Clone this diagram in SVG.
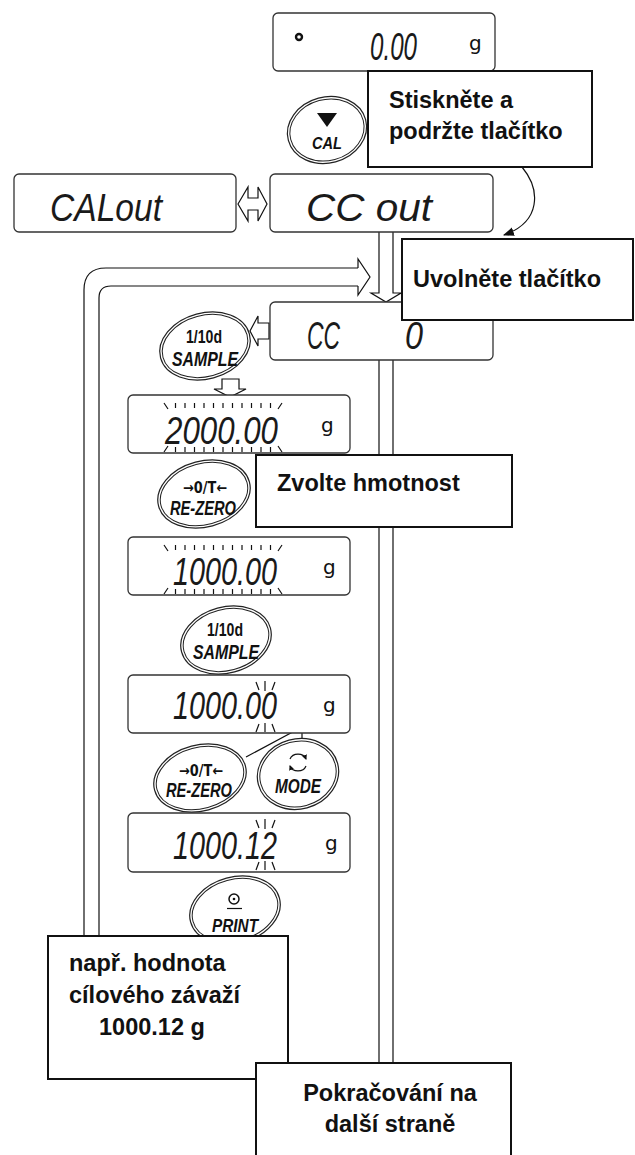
<svg xmlns="http://www.w3.org/2000/svg" width="635" height="1155" viewBox="0 0 635 1155">
<style>
.disp{fill:#fff;stroke:#333;stroke-width:1.3}
.seg{font-family:"Liberation Sans","DejaVu Sans",sans-serif;font-style:italic;font-size:38px;fill:#1a1a1a}
.unit{font-family:"DejaVu Sans","Liberation Sans",sans-serif;font-size:20px;fill:#111}
.btn{fill:#fff;stroke:#222;stroke-width:1.2}
.btn2{fill:none;stroke:#222;stroke-width:1}
.bt{font-family:"Liberation Sans","DejaVu Sans",sans-serif;font-weight:bold;fill:#111;text-anchor:middle}
.ar{font-family:"DejaVu Sans","Liberation Sans",sans-serif;font-weight:bold;fill:#111;text-anchor:middle}
.bi{font-style:italic}
.call{fill:#fff;stroke:#111;stroke-width:2}
.ct{font-family:"Liberation Sans",Arial,sans-serif;font-weight:bold;font-size:23.5px;fill:#111}
.ln{fill:none;stroke:#111;stroke-width:1.2}
.hol{fill:#fff;stroke:#111;stroke-width:1.2}
.tk{fill:none;stroke:#111;stroke-width:1.2}
</style>
<defs>
<marker id="ah" viewBox="0 0 10 10" refX="9" refY="5" markerWidth="11" markerHeight="11" orient="auto" markerUnits="userSpaceOnUse"><path d="M0,1 L10,5 L0,9 z" fill="#111"/></marker>
<marker id="ahs" viewBox="0 0 10 10" refX="8" refY="5" markerWidth="5" markerHeight="5" orient="auto" markerUnits="userSpaceOnUse"><path d="M0,0 L10,5 L0,10 z" fill="#111"/></marker>
<path id="tkAll" class="tk" d="M164,403 L168,409 M175.5,403 V408 M185,403 V408 M194.5,403 V408 M204,403 V408 M213.5,403 V408 M223,403 V408 M232.5,403 V408 M242,403 V408 M251.5,403 V408 M261,403 V408 M270.5,403 V408 M282,403 L278,409 M164,452 L168,446 M175.5,447 V452 M185,447 V452 M194.5,447 V452 M204,447 V452 M213.5,447 V452 M223,447 V452 M232.5,447 V452 M242,447 V452 M251.5,447 V452 M261,447 V452 M270.5,447 V452 M282,452 L278,446"/>
<path id="tkLast" class="tk" d="M256,682 L259,690 M265,681 V691 M275,682 L272,690 M256,732 L259,724 M265,723 V732 M275,732 L272,724"/>
</defs>

<g id="connectors">
<path class="ln" d="M84,936 V290 Q84,268 106,268 H358 M99,936 V298 Q99,286 111,286 H358"/>
<path class="ln" d="M358,268 V259 L370,277 L358,295 V286"/>
<path class="hol" d="M379,232 V293 H371 L386,302 L401,293 H393 V232"/>
<path class="ln" d="M379,360 V1063 M393,360 V1063"/>
<path class="ln" d="M522,167 C541,190 541,222 504,235" marker-end="url(#ah)"/>
<polygon class="hol" points="238,204 248,187 248,198 258,198 258,187 267,204 258,221 258,210 248,210 248,221"/>
<polygon class="hol" points="269,323 258,323 258,316 250,331 258,346 258,339 269,339"/>
<polygon class="hol" points="222,379 239,379 239,389 246,389 230,397 214,389 222,389"/>
<path class="ln" d="M290,690 V723 M290,708 H302 V740 M302,727 L246,757"/>
<path d="M290,683 L285,693 L295,693 Z M290,730 L285,720 L295,720 Z" fill="#111"/>
</g>

<g id="disp-top">
<rect class="disp" x="273" y="13" width="222" height="58" rx="5"/>
<circle cx="299" cy="37" r="3" fill="none" stroke="#111" stroke-width="2.4"/>
<text class="seg" x="370" y="60" textLength="47" lengthAdjust="spacingAndGlyphs">0.00</text>
<text class="unit" x="469" y="50">g</text>
</g>

<g id="btn-cal">
<ellipse class="btn" cx="327" cy="130" rx="40" ry="33" transform="rotate(-15 327 130)"/>
<ellipse class="btn2" cx="327" cy="130" rx="37.5" ry="30.5" transform="rotate(-15 327 130)"/>
<path d="M317,113 L337,113 L327,127 Z" fill="#111"/>
<text class="bt bi" x="327" y="149" font-size="17" textLength="30" lengthAdjust="spacingAndGlyphs">CAL</text>
</g>

<g id="disp-calout">
<rect class="disp" x="14" y="174" width="222" height="58" rx="5"/>
<text class="seg" x="50" y="221" textLength="112" lengthAdjust="spacingAndGlyphs">CALout</text>
</g>

<g id="disp-ccout">
<rect class="disp" x="270" y="174" width="223" height="58" rx="5"/>
<text class="seg" x="306" y="221" textLength="126" lengthAdjust="spacingAndGlyphs">CC out</text>
</g>

<g id="disp-cc0">
<rect class="disp" x="270" y="302" width="223" height="58" rx="5"/>
<text class="seg" x="307" y="349" textLength="33" lengthAdjust="spacingAndGlyphs">CC</text>
<text class="seg" x="405" y="349" textLength="18" lengthAdjust="spacingAndGlyphs">0</text>
</g>

<g id="btn-sample1">
<ellipse class="btn" cx="205" cy="346" rx="46" ry="33" transform="rotate(-15 205 346)"/>
<ellipse class="btn2" cx="205" cy="346" rx="43.5" ry="30.5" transform="rotate(-15 205 346)"/>
<text class="bt" x="204" y="343" font-size="19" textLength="36" lengthAdjust="spacingAndGlyphs">1/10d</text>
<text class="bt bi" x="205" y="366" font-size="20" textLength="66" lengthAdjust="spacingAndGlyphs">SAMPLE</text>
</g>

<g id="disp-2000">
<rect class="disp" x="128" y="395" width="222" height="58" rx="5"/>
<use href="#tkAll"/>
<text class="seg" x="165" y="444" textLength="113" lengthAdjust="spacingAndGlyphs">2000.00</text>
<text class="unit" x="321" y="432">g</text>
</g>

<g id="btn-rezero1">
<ellipse class="btn" cx="204" cy="494" rx="47" ry="33" transform="rotate(-15 204 494)"/>
<ellipse class="btn2" cx="204" cy="494" rx="44.5" ry="30.5" transform="rotate(-15 204 494)"/>
<text class="ar" x="205" y="493" font-size="15" textLength="44" lengthAdjust="spacingAndGlyphs">→0/T←</text>
<text class="bt bi" x="203" y="515" font-size="20" textLength="66" lengthAdjust="spacingAndGlyphs">RE-ZERO</text>
</g>

<g id="disp-1000a">
<rect class="disp" x="128" y="537" width="222" height="58" rx="5"/>
<use href="#tkAll" transform="translate(0,142)"/>
<text class="seg" x="173" y="585" textLength="104" lengthAdjust="spacingAndGlyphs">1000.00</text>
<text class="unit" x="323" y="574">g</text>
</g>

<g id="btn-sample2">
<ellipse class="btn" cx="226" cy="640" rx="46" ry="33" transform="rotate(-15 226 640)"/>
<ellipse class="btn2" cx="226" cy="640" rx="43.5" ry="30.5" transform="rotate(-15 226 640)"/>
<text class="bt" x="225" y="636" font-size="19" textLength="36" lengthAdjust="spacingAndGlyphs">1/10d</text>
<text class="bt bi" x="226" y="659" font-size="20" textLength="66" lengthAdjust="spacingAndGlyphs">SAMPLE</text>
</g>

<g id="disp-1000b">
<rect class="disp" x="128" y="675" width="222" height="58" rx="5"/>
<use href="#tkLast"/>
<text class="seg" x="173" y="719" textLength="104" lengthAdjust="spacingAndGlyphs">1000.00</text>
<text class="unit" x="323" y="712">g</text>
</g>

<g id="btn-rezero2">
<ellipse class="btn" cx="200" cy="778" rx="47" ry="33" transform="rotate(-15 200 778)"/>
<ellipse class="btn2" cx="200" cy="778" rx="44.5" ry="30.5" transform="rotate(-15 200 778)"/>
<text class="ar" x="201" y="776" font-size="15" textLength="44" lengthAdjust="spacingAndGlyphs">→0/T←</text>
<text class="bt bi" x="199" y="797" font-size="20" textLength="66" lengthAdjust="spacingAndGlyphs">RE-ZERO</text>
</g>

<g id="btn-mode">
<ellipse class="btn" cx="298" cy="774" rx="41" ry="35" transform="rotate(-15 298 774)"/>
<ellipse class="btn2" cx="298" cy="774" rx="38.5" ry="32.5" transform="rotate(-15 298 774)"/>
<path class="ln" d="M290,759 A8.5,7.5 0 0 1 306,759" marker-end="url(#ahs)"/>
<path class="ln" d="M306,766 A8.5,7.5 0 0 1 290,766" marker-end="url(#ahs)"/>
<text class="bt bi" x="298" y="793" font-size="20" textLength="46" lengthAdjust="spacingAndGlyphs">MODE</text>
</g>

<g id="disp-100012">
<rect class="disp" x="128" y="813" width="222" height="59" rx="5"/>
<use href="#tkLast" transform="translate(0,138)"/>
<text class="seg" x="173" y="859" textLength="104" lengthAdjust="spacingAndGlyphs">1000.12</text>
<text class="unit" x="325" y="850">g</text>
</g>

<g id="btn-print">
<ellipse class="btn" cx="235" cy="910" rx="46" ry="33" transform="rotate(-15 235 910)"/>
<ellipse class="btn2" cx="235" cy="910" rx="43.5" ry="30.5" transform="rotate(-15 235 910)"/>
<circle cx="234" cy="899" r="5" fill="none" stroke="#111" stroke-width="1.5"/>
<circle cx="234" cy="899" r="1.3" fill="#111"/>
<path class="ln" d="M227,908.5 H242" stroke-width="1.6"/>
<text class="bt bi" x="235" y="932" font-size="19" textLength="46" lengthAdjust="spacingAndGlyphs">PRINT</text>
</g>

<g id="note-press">
<rect class="call" x="368" y="71" width="224" height="96"/>
<text class="ct" x="389" y="108">Stiskněte a</text>
<text class="ct" x="389" y="139">podržte tlačítko</text>
</g>

<g id="note-release">
<rect class="call" x="402" y="239" width="231" height="81"/>
<text class="ct" x="413" y="287">Uvolněte tlačítko</text>
</g>

<g id="note-select">
<rect class="call" x="256" y="455" width="256" height="72"/>
<text class="ct" x="277" y="491">Zvolte hmotnost</text>
</g>

<g id="note-example">
<rect class="call" x="48" y="936" width="240" height="143"/>
<text class="ct" x="69" y="971">např. hodnota</text>
<text class="ct" x="69" y="1003">cílového závaží</text>
<text class="ct" x="99" y="1035">1000.12 g</text>
</g>

<g id="note-continue">
<rect class="call" x="256" y="1063" width="255" height="100"/>
<text class="ct" x="390" y="1101" text-anchor="middle">Pokračování na</text>
<text class="ct" x="390" y="1132" text-anchor="middle">další straně</text>
</g>
</svg>
